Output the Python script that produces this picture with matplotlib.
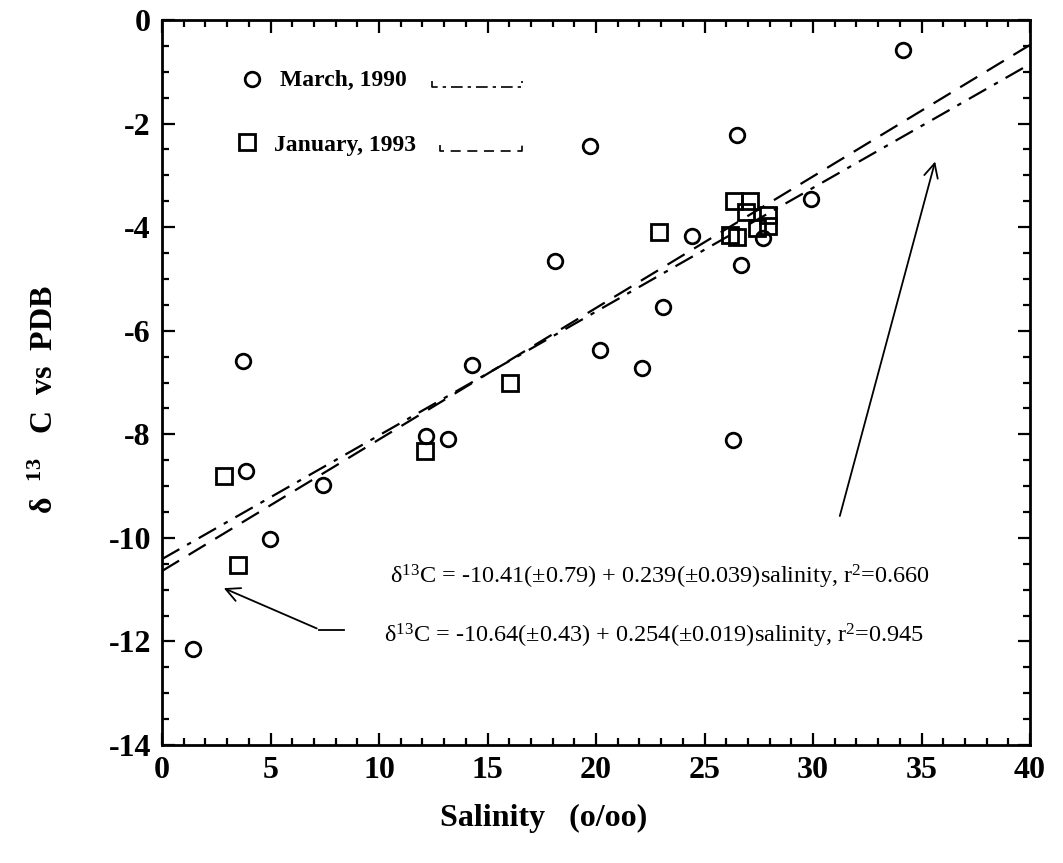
import matplotlib
matplotlib.use("Agg")
import matplotlib.pyplot as plt
from matplotlib.ticker import MultipleLocator

plt.rcParams['font.family'] = ['Liberation Serif', 'DejaVu Serif']
plt.rcParams['mathtext.fontset'] = 'custom'
plt.rcParams['mathtext.rm'] = 'Liberation Serif'
plt.rcParams['mathtext.it'] = 'Liberation Serif:italic'
plt.rcParams['mathtext.bf'] = 'Liberation Serif:bold'
plt.rcParams['axes.unicode_minus'] = False

# March, 1990 (circles)
mar_sal = [1.45, 3.71, 3.87, 4.99, 7.40, 12.18, 13.18, 14.3, 18.1, 19.7,
           20.2, 22.1, 23.1, 24.4, 26.3, 26.5, 26.7, 27.7, 29.9, 34.15]
mar_d13c = [-12.14, -6.58, -8.70, -10.02, -8.97, -8.04, -8.09, -6.66, -4.65, -2.43,
            -6.38, -6.71, -5.55, -4.17, -8.11, -2.22, -4.73, -4.20, -3.46, -0.57]

# January, 1993 (squares)
jan_sal = [2.86, 3.48, 12.10, 16.03, 22.92, 26.19, 26.51, 26.34, 27.11, 26.91,
           27.42, 27.94, 27.94]
jan_d13c = [-8.80, -10.52, -8.33, -7.01, -4.10, -4.16, -4.19, -3.49, -3.49, -3.70,
            -4.02, -3.76, -3.98]

# regression fits: intercept, slope
mar_fit = (-10.41, 0.239)
jan_fit = (-10.64, 0.254)
fit_x = [0, 40]

fig = plt.figure(figsize=(10.63, 8.63), dpi=100)
ax = fig.add_axes([0.1524, 0.1367, 0.8166, 0.8401])

ax.plot(mar_sal, mar_d13c, 'o', ms=10.5, mfc='none', mec='black', mew=2)
ax.plot(jan_sal, jan_d13c, 's', ms=11, mfc='none', mec='black', mew=2)

ax.plot(fit_x, [mar_fit[0] + mar_fit[1] * x for x in fit_x], color='black',
        lw=1.6, dashes=(9, 4, 2, 4))
ax.plot(fit_x, [jan_fit[0] + jan_fit[1] * x for x in fit_x], color='black',
        lw=1.6, dashes=(9, 5))

ax.set_xlim(0, 40)
ax.set_ylim(-14, 0)
ax.xaxis.set_major_locator(MultipleLocator(5))
ax.xaxis.set_minor_locator(MultipleLocator(1))
ax.yaxis.set_major_locator(MultipleLocator(2))
ax.yaxis.set_minor_locator(MultipleLocator(0.5))
ax.tick_params(which='both', direction='in', top=True, right=True, width=1.6)
ax.tick_params(which='major', length=9, labelsize=23, pad=8)
ax.tick_params(which='minor', length=5)
for lab in ax.get_xticklabels() + ax.get_yticklabels():
    lab.set_fontweight('bold')
for s in ax.spines.values():
    s.set_linewidth(2)

fig.text(544 / 1063, 1 - 818 / 863, 'Salinity   (o/oo)', fontsize=23, fontweight='bold',
         ha='center', va='center')
fig.text(45 / 1063, 1 - 400 / 863, r'δ  $^{\mathbf{13}}$   C  vs  PDB', fontsize=23,
         fontweight='bold', rotation=90, ha='center', va='center')

# legend drawn by hand
lg = ax.transAxes
ax.plot([0.1037], [0.919], 'o', ms=10.5, mfc='none', mec='black', mew=2, transform=lg)
ax.text(0.136, 0.917, 'March, 1990', transform=lg, fontsize=17, fontweight='bold', va='center')
ax.plot([0.311, 0.311, 0.415, 0.415], [0.916, 0.9076, 0.9076, 0.916], color='black',
        lw=1.2, dashes=(7, 3, 2, 3), transform=lg)
ax.plot([0.098], [0.832], 's', ms=11, mfc='none', mec='black', mew=2, transform=lg)
ax.text(0.129, 0.827, 'January, 1993', transform=lg, fontsize=17, fontweight='bold', va='center')
ax.plot([0.320, 0.320, 0.415, 0.415], [0.8275, 0.819, 0.819, 0.8275], color='black',
        lw=1.2, dashes=(6, 4), transform=lg)

# equations
ax.text(10.5, -10.75, r'δ$^{13}$C = -10.41($\pm$0.79) + 0.239($\pm$0.039)salinity, r$^{2}$=0.660',
        fontsize=17.5, va='center')
ax.text(10.25, -11.9, r'δ$^{13}$C = -10.64($\pm$0.43) + 0.254($\pm$0.019)salinity, r$^{2}$=0.945',
        fontsize=17.5, va='center')

# arrows
ax.plot([8.4, 7.25], [-11.77, -11.77], color='black', lw=1.3)
ax.annotate('', xy=(2.73, -10.95), xytext=(7.25, -11.77),
            arrowprops=dict(arrowstyle='->', color='black', lw=1.3, mutation_scale=25))
ax.annotate('', xy=(35.66, -2.68), xytext=(31.2, -9.63),
            arrowprops=dict(arrowstyle='->', color='black', lw=1.3, mutation_scale=25))

fig.savefig('out.png', dpi=100)
